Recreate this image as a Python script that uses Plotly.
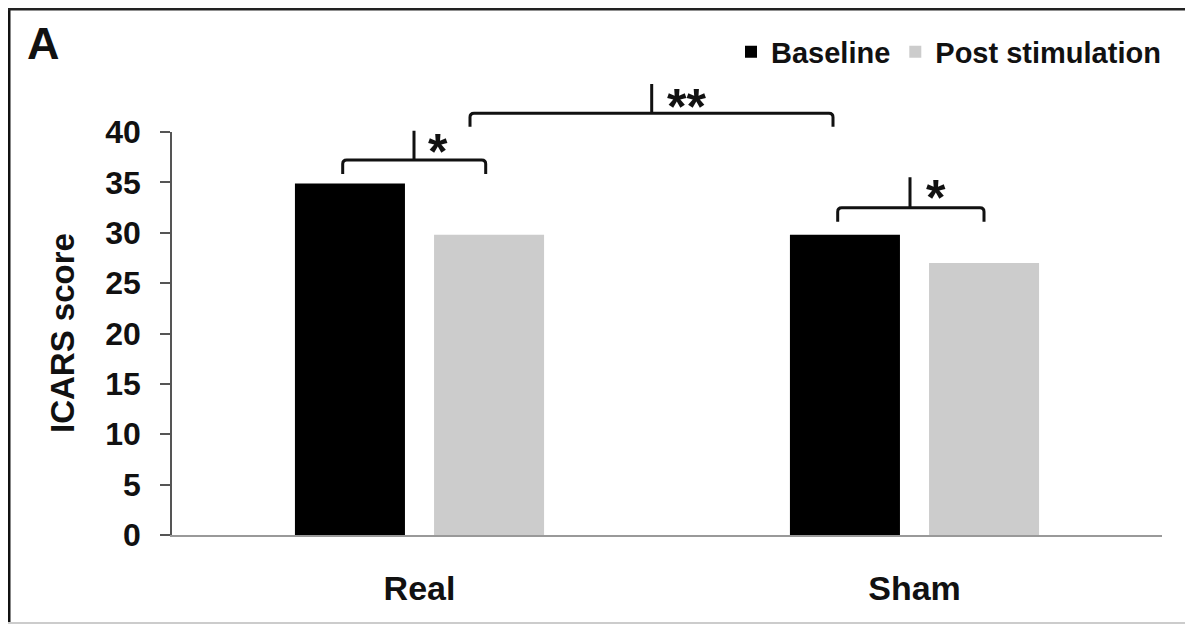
import plotly.graph_objects as go

# ---- data ----
categories = ["Real", "Sham"]
baseline = [34.9, 29.8]
post_stim = [29.8, 27.0]
series_names = ["Baseline", "Post stimulation"]
y_ticks = [0, 5, 10, 15, 20, 25, 30, 35, 40]
y_title = "ICARS score"
panel_label = "A"

OFF = 8  # page body margin
W, H = 1193 - OFF, 625 - OFF
ML, MT = 172 - OFF, 132 - OFF
MR = W - (1162 - OFF)
MB = H - (535 - OFF)
PW, PH = W - ML - MR, H - MT - MB

def px(x):
    return (x - OFF - ML) / PW

def py(y):
    return (H - MB - (y - OFF)) / PH

FONT = "Liberation Sans, Arial, sans-serif"

fig = go.Figure()
fig.add_trace(go.Bar(x=categories, y=baseline, name=series_names[0],
                     marker=dict(color="#000000", line=dict(width=0))))
fig.add_trace(go.Bar(x=categories, y=post_stim, name=series_names[1],
                     marker=dict(color="#cccccc", line=dict(width=0))))

def bracket(x0, x1, yh, yend, xt, ytop):
    r = 4
    pts = (f"M{px(x0)},{py(yend)} L{px(x0)},{py(yh + r)} "
           f"Q{px(x0)},{py(yh)} {px(x0 + r)},{py(yh)} "
           f"L{px(x1 - r)},{py(yh)} Q{px(x1)},{py(yh)} {px(x1)},{py(yh + r)} "
           f"L{px(x1)},{py(yend)} M{px(xt)},{py(yh)} L{px(xt)},{py(ytop)}")
    return dict(type="path", xref="paper", yref="paper", path=pts,
                line=dict(color="#111111", width=3))

shapes = [
    bracket(342.7, 485.7, 160, 174, 414, 130.7),
    bracket(470, 833, 113.3, 126.7, 651.7, 84),
    bracket(837.7, 984, 207.7, 221.7, 910, 177.3),
    # frame
    dict(type="line", xref="paper", yref="paper", x0=px(9), x1=px(9), y0=py(8), y1=py(623),
         line=dict(color="#111111", width=3)),
    dict(type="line", xref="paper", yref="paper", x0=px(8), x1=px(1191), y0=py(9), y1=py(9),
         line=dict(color="#222222", width=3)),
    dict(type="line", xref="paper", yref="paper", x0=px(1191), x1=px(1191), y0=py(8), y1=py(623),
         line=dict(color="#bbbbbb", width=2)),
    dict(type="line", xref="paper", yref="paper", x0=px(8), x1=px(1191), y0=py(623), y1=py(623),
         line=dict(color="#cccccc", width=2)),
]

star_font = dict(family=FONT, size=50, color="#111111", weight="bold")
annotations = [
    dict(text="*", x=px(438), y=py(146 + 6), xref="paper", yref="paper",
         showarrow=False, font=star_font, xanchor="center", yanchor="middle"),
    dict(text="**", x=px(686), y=py(100.7 + 6), xref="paper", yref="paper",
         showarrow=False, font=star_font, xanchor="center", yanchor="middle"),
    dict(text="*", x=px(935.7), y=py(192 + 6), xref="paper", yref="paper",
         showarrow=False, font=star_font, xanchor="center", yanchor="middle"),
    dict(text=panel_label, x=px(25), y=py(44), xref="paper", yref="paper",
         showarrow=False, xanchor="left", yanchor="middle",
         font=dict(family=FONT, size=45, color="#111111", weight="bold")),
    dict(text=y_title, x=px(62), y=py(333), xref="paper", yref="paper",
         showarrow=False, textangle=-90, xanchor="center", yanchor="middle",
         font=dict(family=FONT, size=33, color="#111111", weight="bold")),
]

fig.update_layout(
    width=W, height=H,
    margin=dict(l=ML, r=MR, t=MT, b=MB, pad=0),
    paper_bgcolor="white", plot_bgcolor="white",
    barmode="group", bargap=0.438, bargroupgap=0.209,
    shapes=shapes, annotations=annotations,
    showlegend=True,
    legend=dict(orientation="h", x=px(731), xanchor="left", y=py(52), yanchor="middle",
                font=dict(family=FONT, size=29, color="#111111", weight="bold"),
                bgcolor="rgba(0,0,0,0)", itemclick=False),
    font=dict(family=FONT),
)
fig.update_xaxes(showline=True, linecolor="#999999", linewidth=2, ticks="",
                 showgrid=False, zeroline=False,
                 tickfont=dict(family=FONT, size=34, color="#111111", weight="bold"),
                 ticklabelstandoff=22)
fig.update_yaxes(range=[0, 40], tickvals=y_ticks, showline=True, linecolor="#555555",
                 linewidth=1.5, ticks="outside", ticklen=10, tickwidth=1.5,
                 tickcolor="#555555", showgrid=False, zeroline=False,
                 tickfont=dict(family=FONT, size=32, color="#111111", weight="bold"),
                 ticklabelstandoff=13)

fig.write_html("out.html")
